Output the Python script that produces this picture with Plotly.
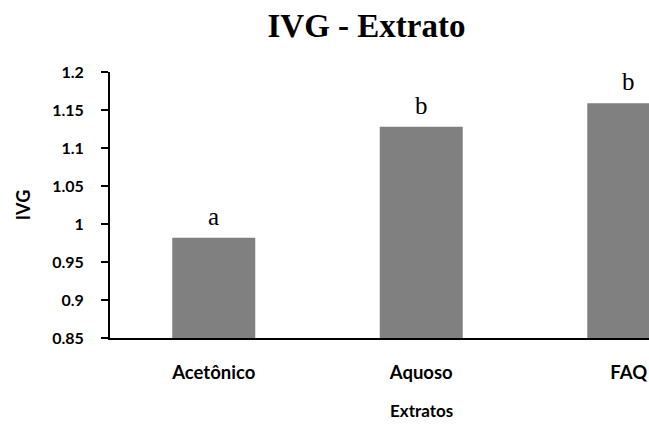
import plotly.graph_objects as go

categories = ["Acetônico", "Aquoso", "FAQ"]
ivg_values = [0.982, 1.128, 1.159]
letters = ["a", "b", "b"]
y_tick_values = [0.85, 0.9, 0.95, 1.0, 1.05, 1.1, 1.15, 1.2]
y_tick_labels = ["0.85", "0.9", "0.95", "1", "1.05", "1.1", "1.15", "1.2"]

W, H = 649, 425
L, R, T, B = 110, 0, 72, 87
cat_px = 207.5  # pixel width of one category
plot_w = W - L - R

fig = go.Figure()
fig.add_trace(go.Bar(
    x=list(range(len(categories))), y=ivg_values,
    marker=dict(color="#808080", line=dict(width=0)),
    width=0.4,
))

sans = "Lato"
for i, (v, t) in enumerate(zip(ivg_values, letters)):
    fig.add_annotation(x=i, y=v, text=t, showarrow=False, xref="x", yref="y",
                       yanchor="bottom", yshift=6,
                       font=dict(family="Liberation Serif", size=25, color="#000"))

fig.add_annotation(x=1, y=0, xref="x", yref="paper", text="Extratos", showarrow=False,
                   yanchor="middle", yshift=-72,
                   font=dict(family=sans, size=17, color="#000", weight="bold"))

fig.update_layout(
    width=W, height=H,
    margin=dict(l=L, r=R, t=T, b=B, pad=0),
    paper_bgcolor="white", plot_bgcolor="white",
    showlegend=False,
    title=dict(text="IVG - Extrato", x=366.5 / W, xref="container", xanchor="center",
               y=1 - 25 / H, yref="container", yanchor="middle",
               font=dict(family="Liberation Serif", size=33, color="#000", weight="bold")),
    xaxis=dict(
        range=[-0.5, -0.5 + plot_w / cat_px],
        tickvals=list(range(len(categories))), ticktext=categories,
        showline=True, linecolor="#000", linewidth=2,
        ticks="", showgrid=False, zeroline=False,
        tickfont=dict(family=sans, size=18.5, color="#000", weight="bold"),
        ticklabelstandoff=17,
    ),
    yaxis=dict(
        range=[0.85, 1.2],
        tickvals=y_tick_values, ticktext=y_tick_labels,
        showline=True, linecolor="#000", linewidth=2,
        ticks="outside", ticklen=7, tickwidth=1.5, tickcolor="#000",
        showgrid=False, zeroline=False,
        tickfont=dict(family=sans, size=16, color="#000", weight="bold"),
        ticklabelstandoff=14,
        title=dict(text="IVG", standoff=17,
                   font=dict(family=sans, size=18, color="#000", weight="bold")),
    ),
)

fig.write_html("out.html", config={"displayModeBar": False},
               post_script="document.body.style.margin='0';document.body.style.padding='0';")
